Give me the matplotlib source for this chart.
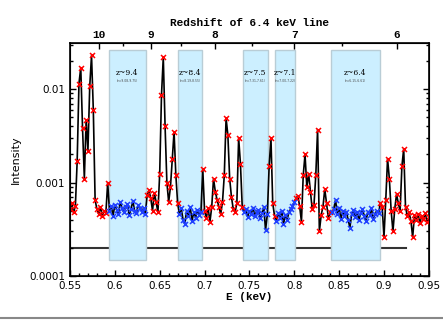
import matplotlib
matplotlib.use('Agg')
import matplotlib.pyplot as plt
from matplotlib.lines import Line2D
from matplotlib.ticker import FixedLocator, NullFormatter
import numpy as np

# spectrum, sampled every 2 eV between 0.55 and 0.95 keV
energy = np.round(np.linspace(0.55, 0.95, 201), 3)
# intensity in units of 1e-4
intensity_e4 = [
    # 0.550 - 0.592
    5.2, 6.0, 4.8, 5.6, 17, 115, 170, 38, 11, 47, 22, 107, 230, 60, 6.5, 5.2, 4.6, 5.5, 4.4, 5.0, 4.7, 10,
    # 0.594 - 0.634
    5.0, 5.6, 4.4, 5.8, 5.1, 4.6, 6.2, 5.3, 4.8, 5.5, 5.9, 4.5, 5.2, 6.4, 5.0, 4.7, 5.7, 5.4, 4.9, 5.3, 4.6,
    # 0.636 - 0.670
    7.4, 8.3, 6.8, 5.0, 7.8, 6.2, 4.8, 12.5, 87, 220, 40, 10, 6.2, 9.0, 18, 35, 12, 6.0,
    # 0.672 - 0.696
    4.6, 5.3, 4.0, 3.6, 5.0, 4.4, 5.5, 3.9, 4.8, 4.2, 5.1, 4.5, 4.9,
    # 0.698 - 0.742
    14, 5.0, 4.2, 5.3, 3.8, 5.5, 11, 8.0, 6.5, 5.5, 4.6, 6.2, 12, 49, 32, 11, 7.0, 5.2, 4.8, 6.0, 30, 16, 5.5,
    # 0.744 - 0.770
    4.8, 5.2, 4.3, 5.0, 4.6, 5.4, 4.4, 4.9, 5.1, 4.2, 4.7, 5.5, 3.1, 4.6,
    # 0.772 - 0.776
    15, 30, 6.0,
    # 0.778 - 0.800
    4.4, 3.9, 4.7, 4.2, 5.0, 3.6, 4.5, 4.0, 4.8, 5.2, 5.6, 6.2,
    # 0.802 - 0.840
    6.8, 7.2, 5.6, 3.8, 12, 20, 9.0, 12.5, 8.0, 5.2, 5.8, 12, 37, 3.0, 4.5, 5.5, 8.5, 6.0, 4.2, 4.8,
    # 0.842 - 0.894
    4.8, 5.2, 6.5, 4.6, 5.4, 4.1, 5.0, 4.4, 4.9, 4.0, 3.3, 4.6, 5.1, 4.3, 4.8, 4.0, 4.7, 5.2, 4.4, 3.9,
    4.9, 4.5, 5.3, 4.1, 4.6, 5.0, 4.7,
    # 0.896 - 0.950
    6.0, 5.5, 2.6, 6.5, 18, 11, 5.0, 3.0, 5.2, 7.5, 6.0, 5.0, 15, 23, 5.5, 4.4, 4.8, 3.9, 2.6, 4.5,
    4.0, 4.6, 3.7, 4.4, 4.1, 4.7, 3.8, 4.3,
]
intensity = np.array(intensity_e4) * 1e-4

# redshift windows of the 6.4 keV line
box_lo = [0.5938, 0.6707, 0.7424, 0.7784, 0.8408]
box_hi = [0.6343, 0.6967, 0.7703, 0.8007, 0.8951]
box_labels = ['z~9.4', 'z~8.4', 'z~7.5', 'z~7.1', 'z~6.4']
box_ranges = ['(z=9.08-9.75)', '(z=8.19-8.55)', '(z=7.31-7.61)', '(z=7.00-7.22)', '(z=6.15-6.61)']

cont_level = 2e-4
cont_end = 0.925

z_major = [10, 9, 8, 7, 6]
z_minor = [9.5, 8.5, 7.5, 6.5]
line_E = 6.4

mono = 'Liberation Mono'

fig = plt.figure(figsize=(4.43, 3.22), dpi=100)
ax = fig.add_axes([0.158, 0.143, 0.810, 0.7236])

ax.plot([0.55, cont_end], [cont_level, cont_level], color='#333333', lw=1.5, zorder=1)

for lo, hi, lab, rng in zip(box_lo, box_hi, box_labels, box_ranges):
    ax.axvspan(lo, hi, ymin=0.069, ymax=0.97, facecolor='#ccefff', edgecolor='#b9cdd6', lw=1.0, zorder=2)
    xc = (lo + hi) / 2
    ax.text(xc, 0.871, lab, transform=ax.get_xaxis_transform(), ha='center', va='center',
            fontsize=5.5, family='DejaVu Serif', zorder=5)
    ax.text(xc, 0.835, rng, transform=ax.get_xaxis_transform(), ha='center', va='center',
            fontsize=2.2, color='#444444', zorder=5)

inb = np.zeros(len(energy), dtype=bool)
for lo, hi in zip(box_lo, box_hi):
    inb |= (energy >= lo) & (energy <= hi)

ax.plot(energy, intensity, color='black', lw=1.2, zorder=3)
ax.plot(energy[~inb], intensity[~inb], ls='none', marker='x', color='red', ms=3.6, mew=1.1, zorder=4)
ax.plot(energy[inb], intensity[inb], ls='none', marker='x', color='#2040ff', ms=3.6, mew=1.1, zorder=4)

ax.set_yscale('log')
ax.set_xlim(0.55, 0.95)
ax.set_ylim(1e-4, 0.0313)
ax.set_xticks([0.55, 0.6, 0.65, 0.7, 0.75, 0.8, 0.85, 0.9, 0.95])
ax.set_xticklabels(['0.55', '0.6', '0.65', '0.7', '0.75', '0.8', '0.85', '0.9', '0.95'])
ax.xaxis.set_minor_locator(FixedLocator(np.arange(0.56, 0.95, 0.01)))
ax.set_yticks([1e-4, 1e-3, 1e-2])
ax.set_yticklabels(['0.0001', '0.001', '0.01'])
ax.yaxis.set_minor_formatter(NullFormatter())
ax.tick_params(which='both', direction='in', top=False, right=True, labelsize=7.5, width=1.0)
ax.tick_params(which='major', length=4)
ax.tick_params(which='minor', length=2)
for s in ax.spines.values():
    s.set_linewidth(1.2)

ax.set_xlabel('E (keV)', family=mono, fontweight='bold', fontsize=8, labelpad=1)
ax.set_ylabel('Intensity', fontsize=8, labelpad=6)

ax2 = ax.twiny()
ax2.set_xlim(ax.get_xlim())
ax2.set_xticks([line_E / (1 + z) for z in z_major])
ax2.set_xticklabels([str(z) for z in z_major], family=mono, fontweight='bold', fontsize=8)
ax2.set_xticks([line_E / (1 + z) for z in z_minor], minor=True)
ax2.tick_params(which='both', direction='in', width=1.0, pad=2)
ax2.tick_params(which='major', length=4)
ax2.tick_params(which='minor', length=2)
ax2.set_xlabel('Redshift of 6.4 keV line', family=mono, fontweight='bold', fontsize=8, labelpad=3)

fig.add_artist(Line2D([0, 1], [0.012, 0.012], color='#888888', lw=1.5))

fig.savefig('out.png', dpi=100)
